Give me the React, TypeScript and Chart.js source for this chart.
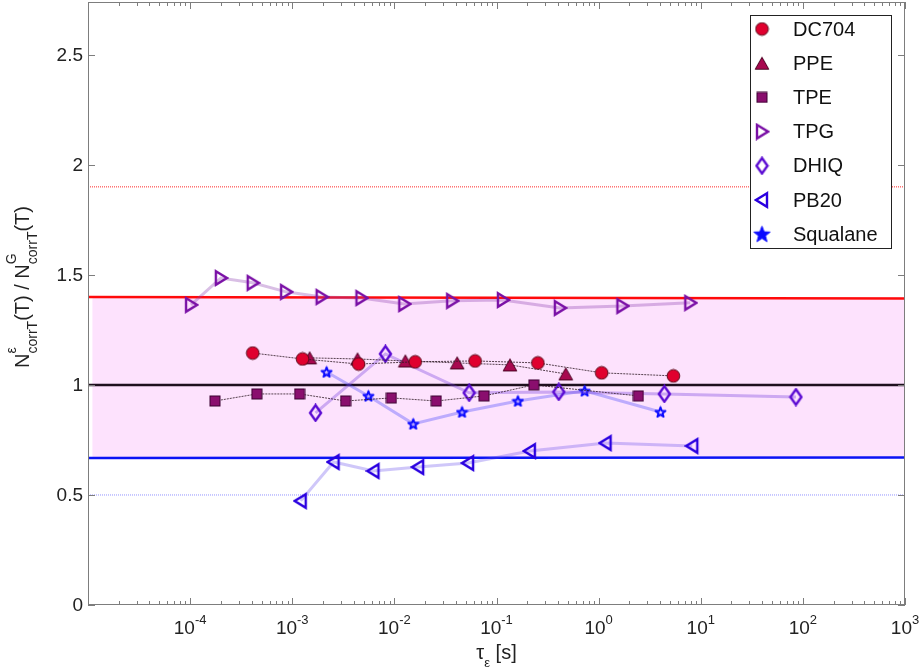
import React, { useEffect, useRef } from 'react';
import { Chart, registerables } from 'chart.js';

Chart.register(...registerables);

// ---- data: relaxation time tau_eps [s] and normalised ratio ----
const seriesNames = ['DC704', 'PPE', 'TPE', 'TPG', 'DHIQ', 'PB20', 'Squalane'];

const dc704Tau = [4.1e-4, 1.26e-3, 4.46e-3, 0.016, 0.0617, 0.254, 1.07, 5.4];
const dc704Ratio = [1.145, 1.118, 1.095, 1.105, 1.109, 1.1, 1.055, 1.041];

const ppeTau = [1.48e-3, 4.36e-3, 0.0128, 0.0412, 0.1355, 0.477];
const ppeRatio = [1.123, 1.118, 1.109, 1.1, 1.091, 1.05];

const tpeTau = [1.75e-4, 4.5e-4, 1.18e-3, 3.33e-3, 9.35e-3, 0.0257, 0.0755, 0.232, 2.45];
const tpeRatio = [0.927, 0.959, 0.959, 0.927, 0.941, 0.927, 0.95, 1.0, 0.95];

const tpgTau = [1.02e-4, 2.0e-4, 4.1e-4, 8.7e-4, 1.94e-3, 4.76e-3, 0.0125, 0.0368, 0.1156, 0.417, 1.71, 7.9];
const tpgRatio = [1.364, 1.486, 1.464, 1.423, 1.4, 1.395, 1.368, 1.382, 1.386, 1.35, 1.359, 1.373];

const dhiqTau = [1.69e-3, 8.17e-3, 0.054, 0.407, 4.4, 85.5];
const dhiqRatio = [0.873, 1.141, 0.964, 0.968, 0.959, 0.945];

const pb20Tau = [1.21e-3, 2.54e-3, 6.24e-3, 0.0171, 0.0527, 0.212, 1.17, 8.26];
const pb20Ratio = [0.473, 0.65, 0.609, 0.627, 0.645, 0.7, 0.736, 0.723];

const squalaneTau = [2.17e-3, 5.57e-3, 0.0153, 0.046, 0.162, 0.73, 4.03];
const squalaneRatio = [1.059, 0.95, 0.823, 0.877, 0.927, 0.973, 0.877];

// reference levels
const refTau = [1e-5, 1e3];
const upperDotted = [1.9, 1.9];
const upperSolid = [1.4, 1.393];
const unity = [1, 1];
const lowerSolid = [0.668, 0.67];
const lowerDotted = [0.5, 0.5];
const bandTau = [1.1e-5, 1e3];
const bandTop = [1.4, 1.4];
const bandBottom = 0.67;

// axis ticks
const xMin = 1e-5;
const xMax = 1e3;
const yMin = 0;
const yMax = 2.74;
const xLabelExponents = [-4, -3, -2, -1, 0, 1, 2, 3];
const yTicks = [0, 0.5, 1, 1.5, 2, 2.5];
const yTickLabels = ['0', '0.5', '1', '1.5', '2', '2.5'];

const FONT = '"Liberation Sans", Arial, Helvetica, sans-serif';

const pts = (xs: number[], ys: number[]) => xs.map((x, i) => ({ x, y: ys[i] }));

// ---- marker images ----
function makeCanvas(w: number, h: number) {
  const c = document.createElement('canvas');
  c.width = w;
  c.height = h;
  return c;
}

function circleMarker(fill: string, edge: string) {
  const c = makeCanvas(15, 15);
  const g = c.getContext('2d')!;
  g.beginPath();
  g.arc(7.5, 7.5, 6.3, 0, Math.PI * 2);
  g.fillStyle = fill;
  g.fill();
  g.lineWidth = 1;
  g.strokeStyle = edge;
  g.stroke();
  return c;
}

function triUpMarker(fill: string, edge: string) {
  const c = makeCanvas(16, 15);
  const g = c.getContext('2d')!;
  g.beginPath();
  g.moveTo(8, 1.5);
  g.lineTo(14.8, 13.5);
  g.lineTo(1.2, 13.5);
  g.closePath();
  g.fillStyle = fill;
  g.fill();
  g.lineWidth = 1;
  g.strokeStyle = edge;
  g.stroke();
  return c;
}

function squareMarker(fill: string, edge: string) {
  const c = makeCanvas(12, 12);
  const g = c.getContext('2d')!;
  g.fillStyle = fill;
  g.fillRect(1, 1, 10, 10);
  g.lineWidth = 1;
  g.strokeStyle = edge;
  g.strokeRect(1, 1, 10, 10);
  return c;
}

function triSideMarker(color: string, right: boolean) {
  const c = makeCanvas(16, 18);
  const g = c.getContext('2d')!;
  g.beginPath();
  if (right) {
    g.moveTo(3, 2.2);
    g.lineTo(14, 9);
    g.lineTo(3, 15.8);
  } else {
    g.moveTo(13, 2.2);
    g.lineTo(2, 9);
    g.lineTo(13, 15.8);
  }
  g.closePath();
  g.lineWidth = 2.4;
  g.lineJoin = 'miter';
  g.strokeStyle = color;
  g.stroke();
  return c;
}

function diamondMarker(color: string) {
  const c = makeCanvas(15, 19);
  const g = c.getContext('2d')!;
  g.beginPath();
  g.moveTo(7.5, 1.8);
  g.lineTo(13, 9.5);
  g.lineTo(7.5, 17.2);
  g.lineTo(2, 9.5);
  g.closePath();
  g.lineWidth = 2.4;
  g.strokeStyle = color;
  g.stroke();
  return c;
}

function starPath(g: CanvasRenderingContext2D, cx: number, cy: number, ro: number, ri: number) {
  g.beginPath();
  for (let i = 0; i < 10; i++) {
    const r = i % 2 === 0 ? ro : ri;
    const a = -Math.PI / 2 + (i * Math.PI) / 5;
    const px = cx + r * Math.cos(a);
    const py = cy + r * Math.sin(a);
    if (i === 0) g.moveTo(px, py);
    else g.lineTo(px, py);
  }
  g.closePath();
}

function starMarker(color: string, size: number) {
  const c = makeCanvas(size, size);
  const g = c.getContext('2d')!;
  const ro = size * 0.4;
  starPath(g, size / 2, size / 2 + 0.5, ro, ro * 0.42);
  g.lineWidth = 2;
  g.lineJoin = 'round';
  g.strokeStyle = color;
  g.stroke();
  return c;
}

function starFilled(color: string, size: number) {
  const c = makeCanvas(size, size);
  const g = c.getContext('2d')!;
  const ro = size * 0.45;
  starPath(g, size / 2, size / 2 + 0.5, ro, ro * 0.42);
  g.fillStyle = color;
  g.fill();
  g.lineWidth = 1;
  g.strokeStyle = color;
  g.stroke();
  return c;
}

type Seg = { t: string; size: number; dy: number; noAdvance?: boolean };

function segWidth(ctx: CanvasRenderingContext2D, segs: Seg[]) {
  let w = 0;
  for (const s of segs) {
    ctx.font = `${s.size}px ${FONT}`;
    if (!s.noAdvance) w += ctx.measureText(s.t).width;
  }
  return w;
}

function drawSegs(ctx: CanvasRenderingContext2D, segs: Seg[], x0: number, y0: number) {
  let x = x0;
  ctx.textBaseline = 'alphabetic';
  ctx.textAlign = 'left';
  for (const s of segs) {
    ctx.font = `${s.size}px ${FONT}`;
    ctx.fillText(s.t, x, y0 + s.dy);
    if (!s.noAdvance) x += ctx.measureText(s.t).width;
  }
}

export default function App() {
  const ref = useRef<HTMLCanvasElement | null>(null);

  useEffect(() => {
    const canvas = ref.current;
    if (!canvas) return;

    const colors = {
      dc704: '#E0002E',
      ppe: '#A8084F',
      tpe: '#8A0E6E',
      tpg: '#7A10A6',
      dhiq: '#5A0AD2',
      pb20: '#2A00E0',
      squalane: '#0A0AFF',
    };

    const markers = [
      circleMarker(colors.dc704, '#5a0a1a'),
      triUpMarker(colors.ppe, '#4a0020'),
      squareMarker(colors.tpe, '#3a0030'),
      triSideMarker(colors.tpg, true),
      diamondMarker(colors.dhiq),
      triSideMarker(colors.pb20, false),
      starMarker(colors.squalane, 13),
    ];
    const legendMarkers = markers.slice(0, 6).concat([starFilled(colors.squalane, 19)]);

    const thinDotted = (label: string, xs: number[], ys: number[], i: number) => ({
      label,
      data: pts(xs, ys),
      borderColor: 'rgba(45,25,35,0.8)',
      borderWidth: 1,
      borderDash: [2, 1],
      pointStyle: markers[i],
      pointRadius: 7,
      showLine: true,
      order: 1,
      isSeries: true,
    });
    const softLine = (label: string, xs: number[], ys: number[], i: number, line: string) => ({
      label,
      data: pts(xs, ys),
      borderColor: line,
      borderWidth: 3,
      pointStyle: markers[i],
      pointRadius: 7,
      showLine: true,
      order: 1,
      isSeries: true,
    });
    const refLine = (xs: number[], ys: number[], color: string, width: number, dash: number[] = []) => ({
      label: '',
      data: pts(xs, ys),
      borderColor: color,
      borderWidth: width,
      borderDash: dash,
      pointRadius: 0,
      showLine: true,
      order: 5,
      isSeries: false,
    });

    const datasets: any[] = [
      thinDotted(seriesNames[0], dc704Tau, dc704Ratio, 0),
      thinDotted(seriesNames[1], ppeTau, ppeRatio, 1),
      thinDotted(seriesNames[2], tpeTau, tpeRatio, 2),
      softLine(seriesNames[3], tpgTau, tpgRatio, 3, 'rgba(140,60,175,0.33)'),
      softLine(seriesNames[4], dhiqTau, dhiqRatio, 4, 'rgba(115,60,220,0.35)'),
      softLine(seriesNames[5], pb20Tau, pb20Ratio, 5, 'rgba(95,70,235,0.3)'),
      softLine(seriesNames[6], squalaneTau, squalaneRatio, 6, 'rgba(60,60,255,0.33)'),
      refLine(refTau, upperDotted, 'rgba(255,0,0,0.85)', 1, [1, 1]),
      refLine(refTau, upperSolid, '#FF0A0A', 2.5),
      refLine(refTau, unity, '#1e0f1e', 2.5),
      refLine(refTau, lowerSolid, '#0A14F5', 2.5),
      refLine(refTau, lowerDotted, 'rgba(110,110,255,0.75)', 1, [1, 1]),
      {
        label: '',
        data: pts(bandTau, bandTop),
        borderWidth: 0,
        borderColor: 'rgba(0,0,0,0)',
        backgroundColor: '#FDE2FD',
        fill: { value: bandBottom },
        pointRadius: 0,
        showLine: true,
        order: 10,
        isSeries: false,
      },
    ];

    const framePlugin = {
      id: 'frame',
      afterDraw(chart: any) {
        const ctx: CanvasRenderingContext2D = chart.ctx;
        const { left, right, top, bottom } = chart.chartArea;
        const xs = chart.scales.x;
        const ys = chart.scales.y;
        ctx.save();

        // box
        ctx.strokeStyle = '#7d7d7d';
        ctx.lineWidth = 1;
        ctx.setLineDash([]);
        ctx.strokeRect(left + 0.5, top + 0.5, right - left - 1, bottom - top - 1);

        // x ticks (inward, top & bottom)
        ctx.beginPath();
        for (let e = -5; e <= 3; e++) {
          for (let m = 1; m <= 9; m++) {
            const v = m * Math.pow(10, e);
            if (v < xMin || v > xMax) continue;
            const px = Math.round(xs.getPixelForValue(v)) + 0.5;
            const len = m === 1 ? 7 : 4;
            ctx.moveTo(px, bottom);
            ctx.lineTo(px, bottom - len);
            ctx.moveTo(px, top);
            ctx.lineTo(px, top + len);
          }
        }
        // y ticks (inward, left & right)
        for (const v of yTicks) {
          const py = Math.round(ys.getPixelForValue(v)) + 0.5;
          ctx.moveTo(left, py);
          ctx.lineTo(left + 7, py);
          ctx.moveTo(right, py);
          ctx.lineTo(right - 7, py);
        }
        ctx.stroke();

        ctx.fillStyle = '#222';
        // y tick labels
        ctx.font = `19px ${FONT}`;
        ctx.textAlign = 'right';
        ctx.textBaseline = 'middle';
        yTicks.forEach((v, i) => {
          ctx.fillText(yTickLabels[i], left - 5, ys.getPixelForValue(v) + 1);
        });

        // x tick labels 10^n
        for (const e of xLabelExponents) {
          const px = xs.getPixelForValue(Math.pow(10, e));
          const segs: Seg[] = [
            { t: '10', size: 19, dy: 0 },
            { t: String(e), size: 13, dy: -10 },
          ];
          const w = segWidth(ctx, segs);
          drawSegs(ctx, segs, px - w / 2, 634);
        }

        // x title
        {
          const segs: Seg[] = [
            { t: 'τ', size: 20, dy: 0 },
            { t: 'ε', size: 13, dy: 8 },
            { t: ' [s]', size: 20, dy: 0 },
          ];
          const w = segWidth(ctx, segs);
          drawSegs(ctx, segs, (left + right) / 2 - w / 2, 659);
        }

        // y title (rotated)
        {
          const segs: Seg[] = [
            { t: 'N', size: 20, dy: 0 },
            { t: 'ε', size: 14, dy: -13, noAdvance: true },
            { t: 'corrT', size: 14, dy: 8 },
            { t: '(T) / N', size: 20, dy: 0 },
            { t: 'G', size: 14, dy: -13, noAdvance: true },
            { t: 'corrT', size: 14, dy: 8 },
            { t: '(T)', size: 20, dy: 0 },
          ];
          const w = segWidth(ctx, segs);
          ctx.save();
          ctx.translate(29, 287);
          ctx.rotate(-Math.PI / 2);
          drawSegs(ctx, segs, -w / 2, 0);
          ctx.restore();
        }

        // legend
        const lx = 750;
        const ly = 15;
        const lw = 141;
        const lh = 233;
        ctx.fillStyle = '#ffffff';
        ctx.fillRect(lx, ly, lw, lh);
        ctx.strokeStyle = '#222';
        ctx.lineWidth = 1;
        ctx.strokeRect(lx + 0.5, ly + 0.5, lw, lh);
        const series = chart.data.datasets.filter((d: any) => d.isSeries);
        series.forEach((d: any, i: number) => {
          const cy = 29 + i * 34.2;
          const img = legendMarkers[i];
          ctx.drawImage(img, 762 - img.width / 2, cy - img.height / 2);
          ctx.fillStyle = '#111';
          ctx.font = `20px ${FONT}`;
          ctx.textAlign = 'left';
          ctx.textBaseline = 'middle';
          ctx.fillText(d.label, 793, cy + 1);
        });

        ctx.restore();
      },
    };

    const chart = new Chart(canvas, {
      type: 'line',
      data: { datasets },
      options: {
        animation: false,
        responsive: false,
        maintainAspectRatio: false,
        events: [],
        layout: { autoPadding: false, padding: { left: 88, top: 2, right: 16, bottom: 66 } },
        scales: {
          x: { type: 'logarithmic', min: xMin, max: xMax, display: false },
          y: { type: 'linear', min: yMin, max: yMax, display: false },
        },
        plugins: {
          legend: { display: false },
          tooltip: { enabled: false },
        },
      } as any,
      plugins: [framePlugin],
    });

    return () => chart.destroy();
  }, []);

  return (
    <div style={{ position: 'fixed', left: 0, top: 0, width: 921, height: 671, background: '#fff' }}>
      <canvas ref={ref} width={921} height={671} style={{ display: 'block', width: 921, height: 671 }} />
    </div>
  );
}
